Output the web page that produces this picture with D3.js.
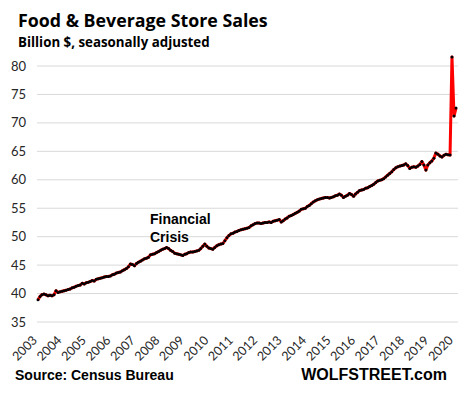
<!DOCTYPE html>
<html>
<head>
<meta charset="utf-8">
<script src="https://cdn.jsdelivr.net/npm/d3@7"></script>
<style>
  body { margin: 0; background: #fff; }
</style>
</head>
<body>
<svg></svg>
<script>
// Monthly food & beverage store sales, billion $, Jan 2003 - May 2020
const sales2003 = [38.9, 39.5, 39.8, 39.9, 39.8, 39.6, 39.7, 39.6, 39.8, 40.5, 40.2, 40.3];
const sales2004 = [40.4, 40.5, 40.6, 40.7, 40.8, 41.0, 41.1, 41.3, 41.4, 41.5, 41.8, 41.7];
const sales2005 = [41.9, 42.0, 42.1, 42.3, 42.2, 42.5, 42.6, 42.7, 42.8, 42.9, 43.0, 43.0];
const sales2006 = [43.1, 43.3, 43.4, 43.6, 43.7, 43.8, 44.0, 44.2, 44.4, 44.7, 45.2, 45.1];
const sales2007 = [44.9, 45.3, 45.5, 45.7, 45.9, 46.1, 46.2, 46.4, 46.8, 46.9, 47.0, 47.2];
const sales2008 = [47.4, 47.6, 47.8, 47.9, 48.1, 47.9, 47.6, 47.4, 47.1, 47.0, 46.9, 46.8];
const sales2009 = [46.7, 46.9, 47.0, 47.2, 47.3, 47.3, 47.4, 47.5, 47.6, 47.9, 48.3, 48.7];
const sales2010 = [48.3, 48.0, 47.9, 47.8, 48.1, 48.4, 48.6, 48.7, 48.8, 49.3, 49.8, 50.2];
const sales2011 = [50.5, 50.6, 50.8, 50.9, 51.1, 51.2, 51.3, 51.4, 51.5, 51.6, 51.9, 52.1];
const sales2012 = [52.3, 52.4, 52.4, 52.3, 52.4, 52.5, 52.5, 52.6, 52.5, 52.7, 52.8, 52.9];
const sales2013 = [53.0, 52.6, 52.8, 53.1, 53.3, 53.6, 53.7, 53.9, 54.1, 54.3, 54.5, 54.8];
const sales2014 = [54.9, 55.0, 55.3, 55.5, 55.8, 56.1, 56.3, 56.5, 56.6, 56.7, 56.8, 56.9];
const sales2015 = [56.9, 56.8, 56.9, 57.0, 57.2, 57.3, 57.5, 57.3, 56.9, 57.1, 57.3, 57.6];
const sales2016 = [57.4, 57.1, 57.5, 57.8, 58.1, 58.2, 58.3, 58.5, 58.6, 58.8, 59.0, 59.2];
const sales2017 = [59.5, 59.8, 59.9, 60.0, 60.2, 60.5, 60.8, 61.1, 61.4, 61.8, 62.1, 62.3];
const sales2018 = [62.4, 62.5, 62.6, 62.8, 62.5, 62.0, 62.2, 62.3, 62.2, 62.4, 62.7, 63.2];
const sales2019 = [62.6, 61.7, 62.6, 63.0, 63.3, 63.8, 64.7, 64.5, 64.2, 64.0, 64.3, 64.5];
const sales2020 = [64.4, 64.35, 81.6, 71.2, 72.6];

const years = d3.range(2003, 2021);
const yTicks = [35, 40, 45, 50, 55, 60, 65, 70, 75, 80];

const salesByYear = [sales2003, sales2004, sales2005, sales2006, sales2007, sales2008,
  sales2009, sales2010, sales2011, sales2012, sales2013, sales2014, sales2015,
  sales2016, sales2017, sales2018, sales2019, sales2020];

const data = [];
salesByYear.forEach((arr, i) => {
  arr.forEach((v, m) => data.push({ date: new Date(years[i], m, 1), value: v }));
});

const width = 464, height = 393;
const svg = d3.select("svg")
  .attr("width", width)
  .attr("height", height)
  .style("font-family", "Lato, 'Open Sans', sans-serif");

const x = d3.scaleTime()
  .domain([data[0].date, data[data.length - 1].date])
  .range([38, 456]);

const y = d3.scaleLinear()
  .domain([35, 80])
  .range([322, 66]);

// year labels sit a little wider apart than the monthly points
const xLabel = d3.scaleLinear()
  .domain([2003, 2020])
  .range([38, 454]);

// gridlines
svg.append("g")
  .selectAll("line")
  .data(yTicks)
  .join("line")
  .attr("x1", 37)
  .attr("x2", 458)
  .attr("y1", d => y(d))
  .attr("y2", d => y(d))
  .attr("stroke", "#d9d9d9")
  .attr("stroke-width", 1);

// y labels
svg.append("g")
  .selectAll("text")
  .data(yTicks)
  .join("text")
  .attr("x", 26)
  .attr("y", d => y(d))
  .attr("dy", "0.35em")
  .attr("text-anchor", "end")
  .style("font-size", "13px")
  .style("fill", "#262626")
  .text(d => d);

// x labels, rotated
svg.append("g")
  .selectAll("text")
  .data(years)
  .join("text")
  .attr("transform", d => `translate(${xLabel(d)},341) rotate(-45)`)
  .attr("text-anchor", "end")
  .style("font-size", "12.5px")
  .style("fill", "#262626")
  .text(d => d);

// line
const line = d3.line()
  .x(d => x(d.date))
  .y(d => y(d.value));

svg.append("path")
  .datum(data)
  .attr("d", line)
  .attr("fill", "none")
  .attr("stroke", "#ff0000")
  .attr("stroke-width", 3)
  .attr("stroke-linejoin", "round");

svg.append("g")
  .selectAll("circle")
  .data(data)
  .join("circle")
  .attr("cx", d => x(d.date))
  .attr("cy", d => y(d.value))
  .attr("r", 1.5)
  .attr("fill", "#000");

// titles
svg.append("text")
  .attr("x", 18)
  .attr("y", 27)
  .style("font-family", "'Open Sans', sans-serif")
  .style("font-size", "17.8px")
  .style("font-weight", "bold")
  .style("fill", "#000")
  .text("Food & Beverage Store Sales");

svg.append("text")
  .attr("x", 18)
  .attr("y", 47)
  .style("font-family", "'Open Sans', sans-serif")
  .style("font-size", "13.3px")
  .style("font-weight", "bold")
  .style("fill", "#000")
  .text("Billion $, seasonally adjusted");

// annotation
const note = svg.append("text")
  .style("font-family", "'Liberation Sans', Arial, sans-serif")
  .style("font-size", "14px")
  .style("font-weight", "bold")
  .style("fill", "#000");
note.append("tspan").attr("x", 150).attr("y", 224).text("Financial");
note.append("tspan").attr("x", 150).attr("y", 242).text("Crisis");

// footer
svg.append("text")
  .attr("x", 15)
  .attr("y", 380)
  .style("font-family", "'Liberation Sans', Arial, sans-serif")
  .style("font-size", "14px")
  .style("font-weight", "bold")
  .text("Source: Census Bureau");

svg.append("text")
  .attr("x", 447)
  .attr("y", 380)
  .attr("text-anchor", "end")
  .style("font-family", "'Liberation Sans', Arial, sans-serif")
  .style("font-size", "16px")
  .style("font-weight", "bold")
  .text("WOLFSTREET.com");
</script>
</body>
</html>
